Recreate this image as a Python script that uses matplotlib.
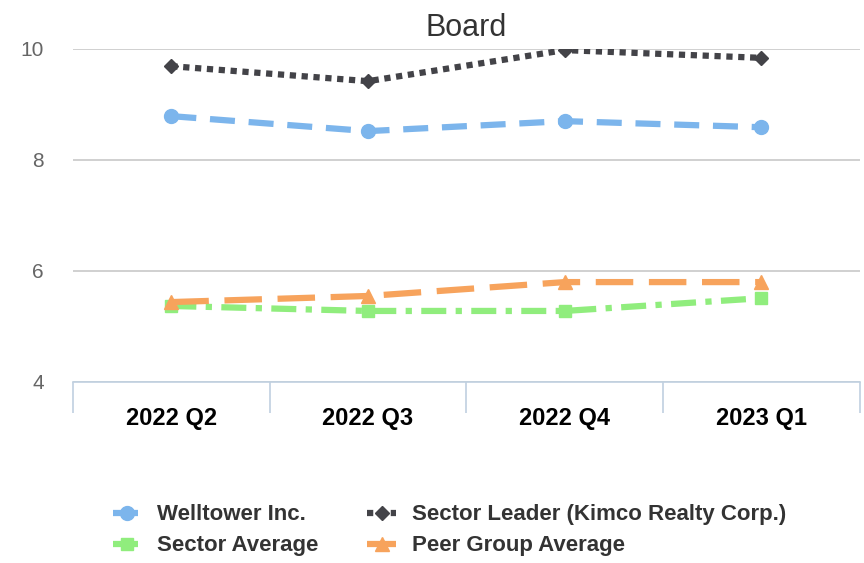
import matplotlib.pyplot as plt

plt.rcParams['font.family'] = ['Liberation Sans', 'DejaVu Sans']

quarters = ['2022 Q2', '2022 Q3', '2022 Q4', '2023 Q1']
welltower = [8.79, 8.52, 8.70, 8.59]
sector_leader = [9.69, 9.42, 9.98, 9.84]
sector_avg = [5.37, 5.28, 5.28, 5.51]
peer_avg = [5.44, 5.55, 5.80, 5.80]

fig = plt.figure(figsize=(8.64, 5.63), dpi=100)
ax = fig.add_axes([0.0845, 0.3215, 0.9105, 0.5915])

x = range(len(quarters))
l1, = ax.plot(x, welltower, color='#7cb5ec', lw=4.5, ls=(0, (4, 2.2)), marker='o', ms=10,
              label='Welltower Inc.')
l2, = ax.plot(x, sector_leader, color='#434348', lw=4.5, ls=(0, (1, 0.9)), marker='D', ms=7,
              label='Sector Leader (Kimco Realty Corp.)')
l3, = ax.plot(x, sector_avg, color='#90ed7d', lw=4.5, ls=(0, (4, 1.5, 1, 1.5)), marker='s', ms=9,
              label='Sector Average')
l4, = ax.plot(x, peer_avg, color='#f7a35c', lw=4.5, ls=(0, (6, 2.5)), marker='^', ms=10,
              label='Peer Group Average')

ax.set_xlim(-0.5, 3.5)
ax.set_ylim(4, 10)
ax.set_yticks([4, 6, 8, 10])
ax.grid(axis='y', color='#c8c8c8', lw=1.2)
ax.set_axisbelow(True)
for s in ['top', 'right', 'left']:
    ax.spines[s].set_visible(False)
ax.spines['bottom'].set_color('#c0d0e0')
ax.spines['bottom'].set_linewidth(1.2)

ax.set_xticks([-0.5, 0.5, 1.5, 2.5, 3.5])
ax.set_xticklabels([])
ax.set_xticks(list(x), minor=True)
ax.set_xticklabels(quarters, minor=True, fontsize=17, fontweight='bold')
ax.tick_params(axis='x', which='major', length=22, color='#c0d0e0', width=1.2)
ax.tick_params(axis='x', which='minor', length=0, pad=18)
ax.tick_params(axis='y', length=0, labelsize=15, labelcolor='#666666', pad=21)

ax.set_title('Board', fontsize=22, color='#333333', pad=9)

handles = [l1, l3, l2, l4]
leg = fig.legend(handles, [h.get_label() for h in handles], loc='center',
                 bbox_to_anchor=(0.52, 0.058), ncol=2, frameon=False,
                 prop={'size': 16, 'weight': 'bold'}, handlelength=1.3,
                 columnspacing=2.2, labelspacing=0.45, handletextpad=0.7)
for t in leg.get_texts():
    t.set_color('#333333')

fig.savefig('out.png')
